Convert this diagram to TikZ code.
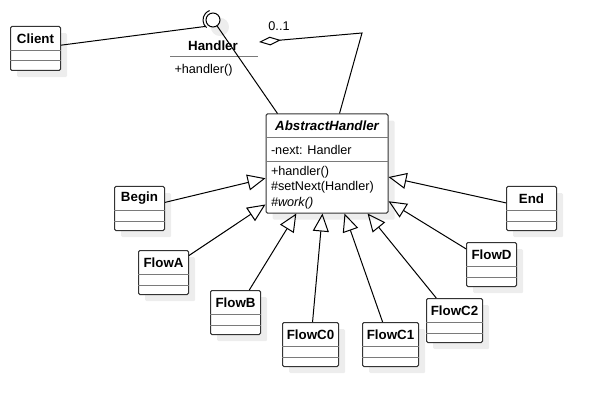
\documentclass[tikz,border=0pt]{standalone}
\usepackage{fontspec}
\setmainfont{Liberation Sans}
\usetikzlibrary{arrows.meta,shadows,calc}
\definecolor{boxgray}{HTML}{333333}
\definecolor{divgray}{HTML}{7A7A7A}
\definecolor{shadowgray}{HTML}{EDEDED}

% class box: name, top left corner, width (px), title
\newcommand{\umlclass}[4]{%
  \node[cls, minimum width=#3*0.75pt, anchor=north west] (#1) at (#2) {};
  \node[font=\bfseries] (#1-title) at ($(#1.north)+(0,12.5)$) {#4};
  \draw[divgray] ($(#1.north west)+(0,24.5)$) -- ($(#1.north east)+(0,24.5)$);
  \draw[divgray] ($(#1.north west)+(0,35)$) -- ($(#1.north east)+(0,35)$);
}

\begin{document}
\begin{tikzpicture}[x=0.75pt, y=-0.75pt, line width=0.75pt,
  font=\fontsize{9.5}{11.4}\selectfont,
  cls/.style={draw=boxgray, fill=white, rounded corners=1pt, minimum height=33pt, inner sep=0pt,
    drop shadow={shadow xshift=5pt, shadow yshift=-5pt, fill=shadowgray, opacity=1}},
  inherit/.style={-{Triangle[open, length=13.5pt, width=12pt]}},
  aggr/.style={-{Diamond[open, length=16.5pt, width=6.5pt]}}]
\useasboundingbox (0,0) rectangle (596,406);

% abstract handler
\node[cls, minimum width=91.5pt, minimum height=74.25pt] (AH) at (327,163.5) {};
\node[font=\bfseries\itshape] (AH-title) at ($(AH.north)+(0,12)$) {AbstractHandler};
\draw[divgray] ($(AH.north west)+(0,24)$) -- ($(AH.north east)+(0,24)$);
\draw[divgray] ($(AH.north west)+(0,48)$) -- ($(AH.north east)+(0,48)$);
\node[anchor=west, inner sep=0pt] (AH-attr) at ($(AH.north west)+(5,36.5)$) {-next: Handler};
\node[anchor=north west, inner sep=0pt, align=left] (AH-ops) at ($(AH.north west)+(5,52.5)$)
  {+handler()\\\#setNext(Handler)\\\textit{\#work()}};

% interface
\node[circle, draw, fill=white, minimum size=10.5pt, inner sep=0pt,
  drop shadow={shadow xshift=4pt, shadow yshift=-4pt, shadow scale=1.3, fill=shadowgray, opacity=1}] (lolli) at (213,20) {};
\draw (lolli.center) ++(130:10) arc[start angle=130, end angle=250, radius=10];
\coordinate (sock) at ($(lolli)+(140:10)$);
\node[font=\bfseries] (hname) at (213,46) {Handler};
\draw[divgray] (170,57) -- (258,57);
\node[anchor=west, inner sep=0pt] (hop) at (174,70) {+handler()};

% classes
\umlclass{client}{10,26}{50}{Client}
\umlclass{begin}{114,186}{50}{Begin}
\umlclass{flowA}{138,250}{50}{FlowA}
\umlclass{flowB}{210,290}{50}{FlowB}
\umlclass{flowC0}{282,322}{56}{FlowC0}
\umlclass{flowC1}{362,322}{56}{FlowC1}
\umlclass{flowC2}{426,298}{56}{FlowC2}
\umlclass{flowD}{466,242}{50}{FlowD}
\umlclass{end}{506,186}{50}{End}

% connectors
\draw (client) -- (sock);
\draw (lolli) -- ($(AH.north west)+(12,0)$);
\coordinate (aggbend) at (362,33);
\coordinate (aggtip) at (259,42);
\draw[aggr] ($(AH.north west)+(74,0)$) -- (aggbend) -- (aggtip);
\node (mult) at (279,26) {0..1};

\foreach \c in {begin,flowA,flowB,flowC0,flowC1,flowC2,flowD,end}
  \draw[inherit] (\c) -- (AH);

\end{tikzpicture}
\end{document}
